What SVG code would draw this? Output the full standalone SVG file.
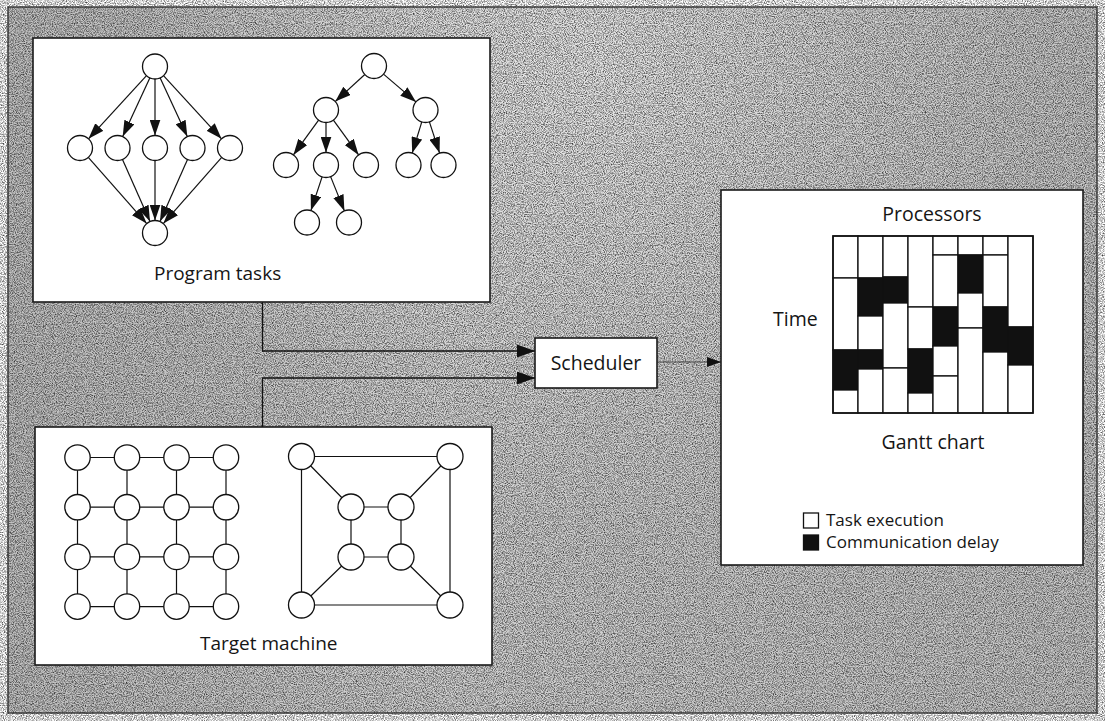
<svg xmlns="http://www.w3.org/2000/svg" width="1105" height="721" viewBox="0 0 1105 721">
  <style>
    .panel { fill: #ffffff; stroke: #1a1a1a; stroke-width: 1.6; }
    .node { fill: #ffffff; stroke: #111111; stroke-width: 1.3; }
    .edge { fill: none; stroke: #111111; stroke-width: 1.2; }
    .arc { fill: none; stroke: #111111; stroke-width: 1.2; marker-end: url(#head); }
    .flow { fill: none; stroke: #111111; stroke-width: 1.3; marker-end: url(#bighead); }
    .out { fill: none; stroke: #444444; stroke-width: 1; marker-end: url(#smallhead); }
    .label { font-family: "Open Sans", "Noto Sans", "Liberation Sans", sans-serif; font-size: 19.5px; fill: #151515; }
    .legend { font-family: "Open Sans", "Noto Sans", "Liberation Sans", sans-serif; font-size: 17px; fill: #151515; }
    .w { fill: #ffffff; stroke: #111111; stroke-width: 1.3; }
    .b { fill: #111111; stroke: #111111; stroke-width: 1.3; }
  </style>
  <defs>
    <marker id="head" viewBox="0 0 16 11" refX="16" refY="5.5" markerWidth="16" markerHeight="11" orient="auto" markerUnits="userSpaceOnUse">
      <path d="M0,0 L16,5.5 L0,11 z" fill="#111111"/>
    </marker>
    <marker id="bighead" viewBox="0 0 18 13" refX="18" refY="6.5" markerWidth="18" markerHeight="13" orient="auto" markerUnits="userSpaceOnUse">
      <path d="M0,0 L18,6.5 L0,13 z" fill="#111111"/>
    </marker>
    <marker id="smallhead" viewBox="0 0 14 10" refX="14" refY="5" markerWidth="14" markerHeight="10" orient="auto" markerUnits="userSpaceOnUse">
      <path d="M0,0 L14,5 L0,10 z" fill="#111111"/>
    </marker>
    <radialGradient id="glow" cx="600" cy="60" r="460" gradientUnits="userSpaceOnUse">
      <stop offset="0" stop-color="#ffffff" stop-opacity="0.6"/>
      <stop offset="0.6" stop-color="#ffffff" stop-opacity="0.2"/>
      <stop offset="1" stop-color="#ffffff" stop-opacity="0"/>
    </radialGradient>
    <linearGradient id="shade" x1="0" y1="0" x2="1" y2="0">
      <stop offset="0" stop-color="#000000" stop-opacity="0.1"/>
      <stop offset="0.4" stop-color="#000000" stop-opacity="0.02"/>
      <stop offset="1" stop-color="#000000" stop-opacity="0.07"/>
    </linearGradient>
    <filter id="grain" x="0" y="0" width="1105" height="721" filterUnits="userSpaceOnUse">
      <feTurbulence type="fractalNoise" baseFrequency="0.9" numOctaves="2" seed="7"/>
      <feColorMatrix type="matrix" values="0 0 0 0 0  0 0 0 0 0  0 0 0 0 0  1.5 0 0 0 -0.55"/>
    </filter>
  </defs>

  <!-- stippled backdrop -->
  <g id="backdrop">
    <rect x="0" y="0" width="1105" height="721" fill="#ffffff"/>
    <rect x="8" y="7" width="1089" height="706" fill="#d6d6d6"/>
    <rect x="8" y="7" width="1089" height="706" fill="url(#glow)"/>
    <rect x="8" y="7" width="1089" height="706" fill="url(#shade)"/>
    <rect x="8" y="7" width="1089" height="706" fill="#000000" filter="url(#grain)"/>
    <rect x="8" y="7" width="1089" height="706" fill="none" stroke="#333333" stroke-width="1.4"/>
  </g>

  <!-- connectors between panels -->
  <g id="connectors">
    <path class="flow" d="M262.5,302 V351 H535"/>
    <path class="flow" d="M262.5,427 V378 H535"/>
    <path class="out" d="M657,362 H721"/>
  </g>

  <!-- task graphs -->
  <g id="program-tasks">
    <rect class="panel" x="33" y="38" width="457" height="264"/>
    <!-- fork/join graph -->
    <line class="arc" x1="146.5" y1="75.7" x2="88.5" y2="138.8"/>
    <line class="arc" x1="149.8" y1="77.9" x2="122.7" y2="136.6"/>
    <line class="arc" x1="155" y1="79" x2="155" y2="135.5"/>
    <line class="arc" x1="160.2" y1="77.9" x2="187.3" y2="136.6"/>
    <line class="arc" x1="163.5" y1="75.7" x2="221.5" y2="138.8"/>
    <line class="arc" x1="88.3" y1="157.4" x2="146.7" y2="223.6"/>
    <line class="arc" x1="122.5" y1="159.4" x2="150" y2="221.6"/>
    <line class="arc" x1="155" y1="160.5" x2="155" y2="220.5"/>
    <line class="arc" x1="187.5" y1="159.4" x2="160" y2="221.6"/>
    <line class="arc" x1="221.7" y1="157.4" x2="163.3" y2="223.6"/>
    <circle class="node" cx="155" cy="66.5" r="12.5"/>
    <circle class="node" cx="80" cy="148" r="12.5"/>
    <circle class="node" cx="117.5" cy="148" r="12.5"/>
    <circle class="node" cx="155" cy="148" r="12.5"/>
    <circle class="node" cx="192.5" cy="148" r="12.5"/>
    <circle class="node" cx="230" cy="148" r="12.5"/>
    <circle class="node" cx="155" cy="233" r="12.5"/>
    <!-- tree -->
    <line class="arc" x1="364.8" y1="74.5" x2="335.2" y2="101.6"/>
    <line class="arc" x1="383.5" y1="74.1" x2="416" y2="101.9"/>
    <line class="arc" x1="318.6" y1="120.1" x2="293.4" y2="154.9"/>
    <line class="arc" x1="326" y1="122.5" x2="326" y2="152.5"/>
    <line class="arc" x1="333.4" y1="120.1" x2="358.6" y2="154.9"/>
    <line class="arc" x1="421.8" y1="121.9" x2="412.2" y2="153.1"/>
    <line class="arc" x1="429.4" y1="121.9" x2="439.6" y2="153.1"/>
    <line class="arc" x1="322.1" y1="176.9" x2="310.9" y2="210.6"/>
    <line class="arc" x1="330.6" y1="176.6" x2="344.4" y2="210.9"/>
    <circle class="node" cx="374" cy="66" r="12.5"/>
    <circle class="node" cx="326" cy="110" r="12.5"/>
    <circle class="node" cx="425.5" cy="110" r="12.5"/>
    <circle class="node" cx="286" cy="165" r="12.5"/>
    <circle class="node" cx="326" cy="165" r="12.5"/>
    <circle class="node" cx="366" cy="165" r="12.5"/>
    <circle class="node" cx="408.5" cy="165" r="12.5"/>
    <circle class="node" cx="443.5" cy="165" r="12.5"/>
    <circle class="node" cx="307" cy="222.5" r="12.5"/>
    <circle class="node" cx="349" cy="222.5" r="12.5"/>
    <text class="label" x="154" y="280" style="font-size:19px">Program tasks</text>
  </g>

  <!-- processor topologies -->
  <g id="target-machine">
    <rect class="panel" x="35" y="427" width="457" height="238"/>
    <!-- 4x4 mesh -->
    <path class="edge" d="M77.5,457.5 H226 M77.5,507.2 H226 M77.5,556.9 H226 M77.5,606.6 H226 M77.5,457.5 V606.6 M127,457.5 V606.6 M176.5,457.5 V606.6 M226,457.5 V606.6"/>
    <g>
      <circle class="node" cx="77.5" cy="457.5" r="12.7"/>
      <circle class="node" cx="127" cy="457.5" r="12.7"/>
      <circle class="node" cx="176.5" cy="457.5" r="12.7"/>
      <circle class="node" cx="226" cy="457.5" r="12.7"/>
      <circle class="node" cx="77.5" cy="507.2" r="12.7"/>
      <circle class="node" cx="127" cy="507.2" r="12.7"/>
      <circle class="node" cx="176.5" cy="507.2" r="12.7"/>
      <circle class="node" cx="226" cy="507.2" r="12.7"/>
      <circle class="node" cx="77.5" cy="556.9" r="12.7"/>
      <circle class="node" cx="127" cy="556.9" r="12.7"/>
      <circle class="node" cx="176.5" cy="556.9" r="12.7"/>
      <circle class="node" cx="226" cy="556.9" r="12.7"/>
      <circle class="node" cx="77.5" cy="606.6" r="12.7"/>
      <circle class="node" cx="127" cy="606.6" r="12.7"/>
      <circle class="node" cx="176.5" cy="606.6" r="12.7"/>
      <circle class="node" cx="226" cy="606.6" r="12.7"/>
    </g>
    <!-- cube -->
    <path class="edge" d="M301.5,456.5 H450 V605 H301.5 Z M351,507 H401 V557 H351 Z M301.5,456.5 L351,507 M450,456.5 L401,507 M301.5,605 L351,557 M450,605 L401,557"/>
    <g>
      <circle class="node" cx="301.5" cy="456.5" r="13"/>
      <circle class="node" cx="450" cy="456.5" r="13"/>
      <circle class="node" cx="301.5" cy="605" r="13"/>
      <circle class="node" cx="450" cy="605" r="13"/>
      <circle class="node" cx="351" cy="507" r="13"/>
      <circle class="node" cx="401" cy="507" r="13"/>
      <circle class="node" cx="351" cy="557" r="13"/>
      <circle class="node" cx="401" cy="557" r="13"/>
    </g>
    <text class="label" x="200" y="650" style="font-size:19px">Target machine</text>
  </g>

  <g id="scheduler">
    <rect class="panel" x="535" y="338" width="122" height="50"/>
    <text class="label" x="596" y="370" text-anchor="middle">Scheduler</text>
  </g>

  <!-- schedule output -->
  <g id="gantt">
    <rect class="panel" x="721" y="190" width="362" height="375"/>
    <text class="label" x="932" y="221" text-anchor="middle">Processors</text>
    <text class="label" x="773" y="326">Time</text>
    <g id="chart">
      <rect class="w" x="833" y="236" width="25" height="42"/>
      <rect class="w" x="833" y="278" width="25" height="72"/>
      <rect class="b" x="833" y="350" width="25" height="40"/>
      <rect class="w" x="833" y="390" width="25" height="23"/>

      <rect class="w" x="858" y="236" width="25" height="42"/>
      <rect class="b" x="858" y="278" width="25" height="38"/>
      <rect class="w" x="858" y="316" width="25" height="34"/>
      <rect class="b" x="858" y="350" width="25" height="19"/>
      <rect class="w" x="858" y="369" width="25" height="44"/>

      <rect class="w" x="883" y="236" width="25" height="41"/>
      <rect class="b" x="883" y="277" width="25" height="26"/>
      <rect class="w" x="883" y="303" width="25" height="65"/>
      <rect class="w" x="883" y="368" width="25" height="45"/>

      <rect class="w" x="908" y="236" width="25" height="71"/>
      <rect class="w" x="908" y="307" width="25" height="42"/>
      <rect class="b" x="908" y="349" width="25" height="44"/>
      <rect class="w" x="908" y="393" width="25" height="20"/>

      <rect class="w" x="933" y="236" width="25" height="19"/>
      <rect class="w" x="933" y="255" width="25" height="52"/>
      <rect class="b" x="933" y="307" width="25" height="39"/>
      <rect class="w" x="933" y="346" width="25" height="30"/>
      <rect class="w" x="933" y="376" width="25" height="37"/>

      <rect class="w" x="958" y="236" width="25" height="19"/>
      <rect class="b" x="958" y="255" width="25" height="38"/>
      <rect class="w" x="958" y="293" width="25" height="35"/>
      <rect class="w" x="958" y="328" width="25" height="85"/>

      <rect class="w" x="983" y="236" width="25" height="19"/>
      <rect class="w" x="983" y="255" width="25" height="52"/>
      <rect class="b" x="983" y="307" width="25" height="45"/>
      <rect class="w" x="983" y="352" width="25" height="61"/>

      <rect class="w" x="1008" y="236" width="25" height="91"/>
      <rect class="b" x="1008" y="327" width="25" height="38"/>
      <rect class="w" x="1008" y="365" width="25" height="48"/>
      <rect x="833" y="236" width="200" height="177" fill="none" stroke="#111111" stroke-width="1.6"/>
    </g>
    <text class="label" x="933" y="449" text-anchor="middle">Gantt chart</text>
    <rect class="w" x="803.5" y="513" width="15" height="15"/>
    <text class="legend" x="826" y="526">Task execution</text>
    <rect class="b" x="803.5" y="535" width="15" height="15"/>
    <text class="legend" x="826" y="548">Communication delay</text>
  </g>
</svg>
